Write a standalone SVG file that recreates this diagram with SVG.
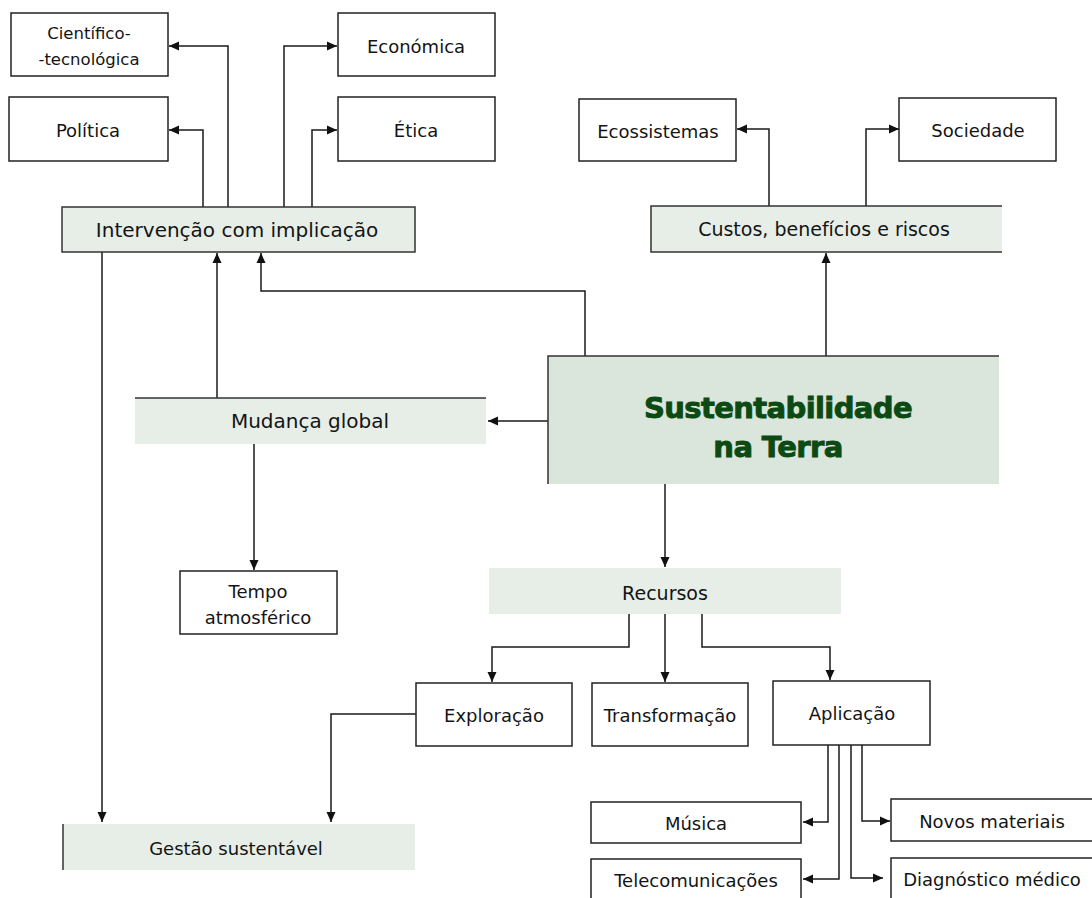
<svg xmlns="http://www.w3.org/2000/svg" width="1092" height="898" viewBox="0 0 1092 898">
<defs>
<marker id="ah" viewBox="0 0 10 10" refX="10" refY="5" markerWidth="10" markerHeight="10" markerUnits="userSpaceOnUse" orient="auto">
<path d="M0,0.5 L10,5 L0,9.5 z" fill="#111"/>
</marker>
<style>
.box{fill:#fff;stroke:#222;stroke-width:1.5}
.g{fill:#e6eee7}
.gd{fill:#dae5dc}
.bl{stroke:#333;stroke-width:1.5;fill:none}
.t{font-family:"DejaVu Sans",Verdana,sans-serif;font-size:18px;fill:#141414;text-anchor:middle;dominant-baseline:central}
.tl{font-size:20px}
.tm{font-size:19px}
.ts{font-size:16.5px}
.big{font-family:"DejaVu Sans",Verdana,sans-serif;font-weight:bold;font-size:29px;fill:#0b4a12;stroke:#0b4a12;stroke-width:0.9;text-anchor:middle;letter-spacing:-0.6px}
.c{fill:none;stroke:#1a1a1a;stroke-width:1.5}
.a{marker-end:url(#ah)}
</style>
</defs>

<g id="connectors">
<path class="c a" d="M203,207 V130 H169"/>
<path class="c a" d="M228,207 V46 H169"/>
<path class="c a" d="M284,207 V46 H337"/>
<path class="c a" d="M312,207 V130 H337"/>
<path class="c a" d="M769,206 V129 H737"/>
<path class="c a" d="M866,206 V129 H899"/>
<path class="c a" d="M826,356 V253"/>
<path class="c a" d="M585,356 V291 H261 V253"/>
<path class="c a" d="M217,398 V253"/>
<path class="c a" d="M548,421 H488"/>
<path class="c a" d="M254,444 V570"/>
<path class="c a" d="M102,252 V822"/>
<path class="c a" d="M665,484 V567"/>
<path class="c a" d="M629,614 V647 H492 V682"/>
<path class="c a" d="M665,614 V682"/>
<path class="c a" d="M702,614 V647 H830 V680"/>
<path class="c a" d="M416,714 H331 V822"/>
<path class="c a" d="M828,745 V822 H803"/>
<path class="c a" d="M839,745 V879 H803"/>
<path class="c a" d="M851,745 V878 H883"/>
<path class="c a" d="M862,745 V821 H890"/>
</g>

<g id="n-cientifico">
<rect class="box" x="11" y="13" width="157" height="63"/>
<text class="t ts" x="89" y="33">Científico-</text>
<text class="t ts" x="89" y="59">-tecnológica</text>
</g>
<g id="n-politica">
<rect class="box" x="9" y="97" width="159" height="64"/>
<text class="t" x="88" y="130">Política</text>
</g>
<g id="n-economica">
<rect class="box" x="338" y="13" width="157" height="63"/>
<text class="t" x="416" y="46">Económica</text>
</g>
<g id="n-etica">
<rect class="box" x="338" y="97" width="157" height="64"/>
<text class="t" x="416" y="130">Ética</text>
</g>
<g id="n-intervencao">
<rect class="g" x="62" y="207" width="353" height="45"/>
<rect class="bl" x="62" y="207" width="353" height="45"/>
<text class="t tl" x="237" y="230">Intervenção com implicação</text>
</g>
<g id="n-ecossistemas">
<rect class="box" x="579" y="99" width="157" height="62"/>
<text class="t" x="658" y="131">Ecossistemas</text>
</g>
<g id="n-sociedade">
<rect class="box" x="899" y="98" width="157" height="63"/>
<text class="t" x="978" y="130">Sociedade</text>
</g>
<g id="n-custos">
<rect class="g" x="651" y="206" width="351" height="46"/>
<path class="bl" d="M1002,206 H651 V252 H1002"/>
<text class="t tm" x="824" y="229">Custos, benefícios e riscos</text>
</g>
<g id="n-sustentabilidade">
<rect class="gd" x="548" y="356" width="451" height="128"/>
<path class="bl" d="M999,356 H548 V484"/>
<text class="big" x="778" y="418">Sustentabilidade</text>
<text class="big" x="778" y="457">na Terra</text>
</g>
<g id="n-mudanca">
<rect class="g" x="135" y="398" width="351" height="46"/>
<path class="bl" d="M135,398 H486"/>
<text class="t tl" x="310" y="421">Mudança global</text>
</g>
<g id="n-tempo">
<rect class="box" x="180" y="571" width="157" height="63"/>
<text class="t" x="258" y="591">Tempo</text>
<text class="t" x="258" y="617">atmosférico</text>
</g>
<g id="n-recursos">
<rect class="g" x="489" y="568" width="352" height="46"/>
<text class="t tm" x="665" y="593">Recursos</text>
</g>
<g id="n-exploracao">
<rect class="box" x="416" y="683" width="156" height="63"/>
<text class="t" x="494" y="715">Exploração</text>
</g>
<g id="n-transformacao">
<rect class="box" x="592" y="683" width="156" height="63"/>
<text class="t" x="670" y="715">Transformação</text>
</g>
<g id="n-aplicacao">
<rect class="box" x="773" y="681" width="157" height="64"/>
<text class="t" x="852" y="713">Aplicação</text>
</g>
<g id="n-gestao">
<rect class="g" x="63" y="824" width="352" height="46"/>
<path class="bl" d="M63,824 V870"/>
<text class="t" x="236" y="848">Gestão sustentável</text>
</g>
<g id="n-musica">
<rect class="box" x="591" y="802" width="210" height="41"/>
<text class="t" x="696" y="823">Música</text>
</g>
<g id="n-telecom">
<rect class="box" x="591" y="859" width="210" height="45"/>
<text class="t" x="696" y="880">Telecomunicações</text>
</g>
<g id="n-novos">
<rect class="box" x="891" y="799" width="205" height="42"/>
<text class="t" x="992" y="821">Novos materiais</text>
</g>
<g id="n-diagnostico">
<rect class="box" x="891" y="858" width="205" height="45"/>
<text class="t" x="992" y="879">Diagnóstico médico</text>
</g>
</svg>
